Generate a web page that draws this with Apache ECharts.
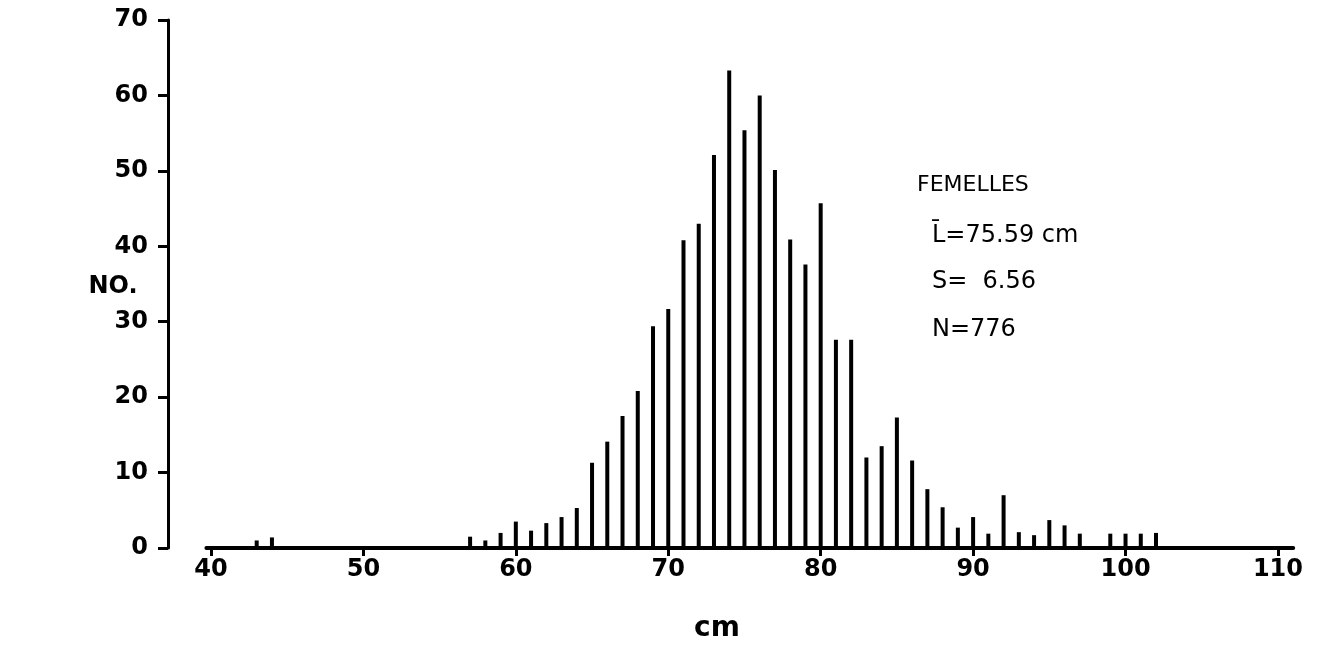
<!DOCTYPE html>
<html><head><meta charset="utf-8">
<script src="https://cdn.jsdelivr.net/npm/echarts@6/dist/echarts.min.js"></script>
<style>html,body{margin:0;padding:0;background:#fff}#c{width:1317px;height:645px}</style>
</head><body><div id="c"></div>
<script>
// Length classes (cm) and number of females in each class
const lengthsCm = [43,44,57,58,59,60,61,62,63,64,65,66,67,68,69,70,71,72,73,74,75,76,77,78,79,80,81,82,83,84,85,86,87,88,89,90,91,92,93,94,95,96,97,99,100,101,102];
const counts    = [1,1.4,1.5,1,2,3.5,2.3,3.3,4.1,5.3,11.3,14.1,17.5,20.8,29.4,31.7,40.8,43,52.1,63.3,55.4,60,50.1,40.9,37.6,45.7,27.6,27.6,12,13.5,17.3,11.6,7.8,5.4,2.7,4.1,1.9,7,2.1,1.7,3.7,3,1.9,1.9,1.9,1.9,2];
const xTickValues = [40,50,60,70,80,90,100,110];
const yTickValues = [0,10,20,30,40,50,60,70];
const yAxisTitle = 'NO.';
const xAxisTitle = 'cm';
const statsTitle = 'FEMELLES';
const statsLines = ['L\u0304=75.59 cm', 'S=  6.56', 'N=776'];

const chart = echarts.init(document.getElementById('c'), null, {renderer: 'canvas'});
const boldFont = 'DejaVu Sans';
chart.setOption({
  animation: false,
  backgroundColor: '#fff',
  grid: {left: 206.4, right: 23.8, top: 20, bottom: 97},
  xAxis: {
    type: 'value', min: 39.7, max: 111,
    axisLine: {show: true, lineStyle: {color: '#000', width: 4}},
    axisTick: {show: true, customValues: xTickValues, length: 8, lineStyle: {color: '#000', width: 3}},
    axisLabel: {show: true, customValues: xTickValues, margin: 10, color: '#000',
      fontFamily: boldFont, fontWeight: 'bold', fontSize: 24},
    splitLine: {show: false}
  },
  yAxis: {
    type: 'value', min: yTickValues[0], max: yTickValues[yTickValues.length-1], interval: 10,
    offset: 38.4,
    axisLine: {show: true, lineStyle: {color: '#000', width: 3}},
    axisTick: {show: true, length: 10, lineStyle: {color: '#000', width: 3}},
    axisLabel: {margin: 20, color: '#000', fontFamily: boldFont, fontWeight: 'bold', fontSize: 24},
    splitLine: {show: false}
  },
  series: [{
    type: 'bar',
    barWidth: 4,
    itemStyle: {color: '#000'},
    data: lengthsCm.map((x, i) => [x, counts[i]])
  }],
  graphic: [
    {type: 'text', x: 113, y: 287, style: {text: yAxisTitle, fontFamily: 'DejaVu Sans', fontWeight: 'bold', fontSize: 24, fill: '#000', align: 'center', verticalAlign: 'middle'}},
    {type: 'text', x: 717, y: 629, style: {text: xAxisTitle, fontFamily: 'DejaVu Sans', fontWeight: 'bold', fontSize: 28, fill: '#000', align: 'center', verticalAlign: 'middle'}},
    {type: 'text', x: 917, y: 185, style: {text: statsTitle, fontFamily: 'DejaVu Sans', fontSize: 22, fill: '#000', align: 'left', verticalAlign: 'middle'}},
    {type: 'text', x: 932, y: 236, style: {text: statsLines[0], fontFamily: 'DejaVu Sans', fontSize: 24, fill: '#000', align: 'left', verticalAlign: 'middle'}},
    {type: 'text', x: 932, y: 282, style: {text: statsLines[1], fontFamily: 'DejaVu Sans', fontSize: 24, fill: '#000', align: 'left', verticalAlign: 'middle'}},
    {type: 'text', x: 932, y: 330, style: {text: statsLines[2], fontFamily: 'DejaVu Sans', fontSize: 24, fill: '#000', align: 'left', verticalAlign: 'middle'}}
  ]
});
</script></body></html>
